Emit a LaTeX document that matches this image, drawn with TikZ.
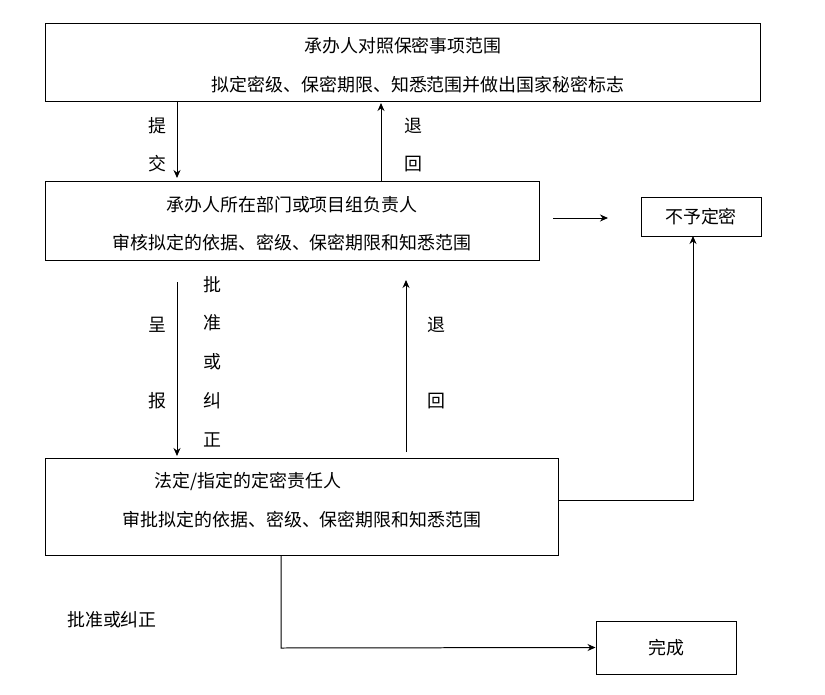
\documentclass[tikz,border=0pt]{standalone}
\usetikzlibrary{arrows.meta}
\usepackage{fontspec}
\newfontfamily\cjk{Noto Sans CJK SC}
\begin{document}
\begin{tikzpicture}[x=1bp,y=-1bp,
 box/.style={draw,line width=1pt,inner sep=0},
 t/.style={font=\cjk\fontsize{18}{20}\selectfont,inner sep=0},
 arr/.style={-{Stealth[length=8pt,width=7pt]},line width=1pt}]
\useasboundingbox (0,0) rectangle (825,695);
\fill[white] (0,0) rectangle (825,695);
\node[box,minimum width=714bp,minimum height=77bp] (b1) at (403,62.5) {};
\node[t] (b1a) at (403,46) {承办人对照保密事项范围};
\node[t] (b1b) at (418,85) {拟定密级、保密期限、知悉范围并做出国家秘密标志};
\node[box,minimum width=493bp,minimum height=79bp] (b2) at (292.5,220.5) {};
\node[t] (b2a) at (292,205) {承办人所在部门或项目组负责人};
\node[t] (b2b) at (292,243) {审核拟定的依据、密级、保密期限和知悉范围};
\node[box,minimum width=120bp,minimum height=39bp,t] (b3) at (701,216.5) {不予定密};
\node[box,minimum width=512bp,minimum height=97bp] (b4) at (302,506.5) {};
\node[t] (b4a) at (248,481) {法定/指定的定密责任人};
\node[t] (b4b) at (302,520) {审批拟定的依据、密级、保密期限和知悉范围};
\node[box,minimum width=140bp,minimum height=53bp,t] (b5) at (666,647.5) {完成};
\draw[arr] (177,101) -- (177,178);
\node[t] at (157,126) {提}; \node[t] at (157,164) {交};
\draw[arr] (381,181) -- (381,103);
\node[t] at (413,126) {退}; \node[t] at (413,164) {回};
\coordinate (ra) at (553,218); \coordinate (rb) at (608,218);
\draw[arr] (ra) -- (rb);
\draw[arr] (177,282) -- (177,456);
\node[t] at (157,325) {呈}; \node[t] at (157,401) {报};
\foreach \c/\y in {批/285,准/323,或/362,纠/401,正/440} \node[t] at (212,\y) {\c};
\draw[arr] (406,452) -- (406,280);
\node[t] at (436,325) {退}; \node[t] at (436,401) {回};
\coordinate (b3in) at (693,236);
\draw[arr] (b4.east |- 0,500) -- (693,500) -- (b3in);
\draw[arr] (281,555) -- (281,648) -- (b5.west);
\node[t] at (112,620) {批准或纠正};
\end{tikzpicture}
\end{document}
